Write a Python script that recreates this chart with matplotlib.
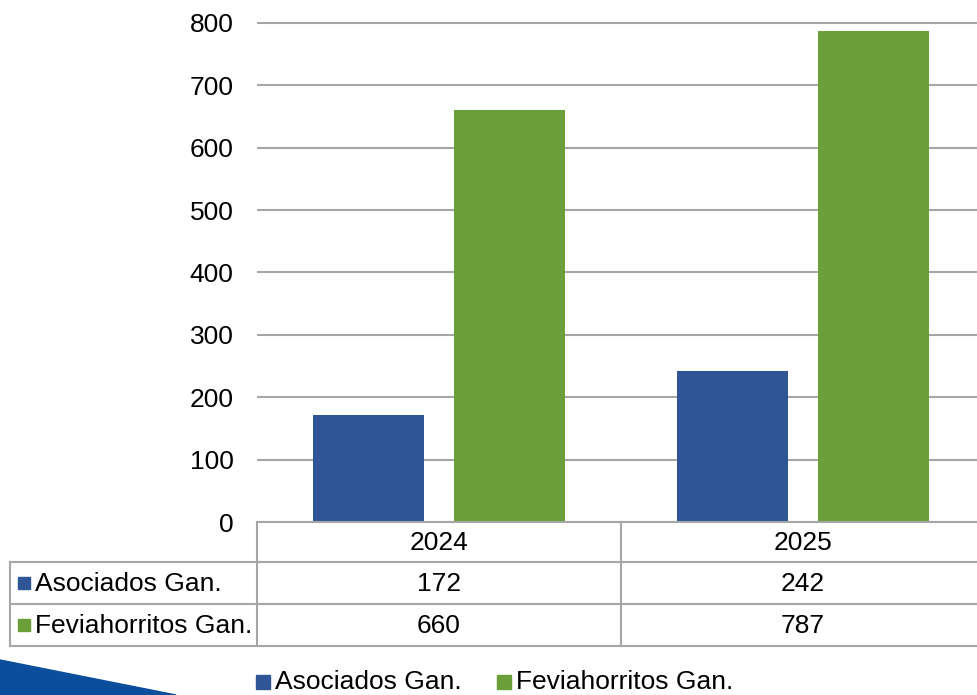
import matplotlib
matplotlib.use('Agg')
import matplotlib.pyplot as plt
import numpy as np
from matplotlib.patches import Polygon, Rectangle

plt.rcParams['font.family'] = ['Liberation Sans', 'DejaVu Sans']

years = ['2024', '2025']
series_names = ['Asociados Gan.', 'Feviahorritos Gan.']
asociados = [172, 242]
feviahorritos = [660, 787]
yticks = [0, 100, 200, 300, 400, 500, 600, 700, 800]

blue = '#2F5597'
green = '#6A9F3A'
grid_grey = '#A6A6A6'

W, H = 977, 695
fig = plt.figure(figsize=(W / 100, H / 100), dpi=100)


def fx(x):
    return x / W


def fy(y):
    return 1 - y / H


# plot area (right edge runs slightly past the picture)
left, right, bottom, top = 257, 985, 522, 20
ax = fig.add_axes([fx(left), fy(bottom), fx(right - left), (bottom - top) / H])
x = np.arange(len(years))
width = 0.305
off = 0.195
ax.bar(x - off, asociados, width, color=blue, zorder=3)
ax.bar(x + off, feviahorritos, width, color=green, zorder=3)
ax.set_xlim(-0.5, len(years) - 0.5)
ax.set_ylim(0, 800 * (bottom - top) / (bottom - 23))
ax.set_yticks(yticks)
ax.set_yticklabels([str(v) for v in yticks], fontsize=19)
ax.set_xticks([])
ax.yaxis.grid(True, color=grid_grey, linewidth=1.5, zorder=0)
ax.tick_params(axis='y', length=0, pad=17)
for s in ax.spines.values():
    s.set_visible(False)

# data table below the plot
line_kw = dict(color=grid_grey, linewidth=1.5, transform=fig.transFigure)
col_w = 364
row_y = [522, 562, 604, 646]
fig.add_artist(plt.Line2D([fx(left), 1], [fy(row_y[0])] * 2, **line_kw))
for yy in row_y[1:]:
    fig.add_artist(plt.Line2D([fx(10), 1], [fy(yy)] * 2, **line_kw))
fig.add_artist(plt.Line2D([fx(10)] * 2, [fy(row_y[1]), fy(row_y[3])], **line_kw))
for i in range(len(years)):
    xl = left + col_w * i
    fig.add_artist(plt.Line2D([fx(xl)] * 2, [fy(row_y[0]), fy(row_y[3])], **line_kw))

rows = [asociados, feviahorritos]
colors = [blue, green]
for i, yr in enumerate(years):
    cx = left + col_w * (i + 0.5)
    fig.text(fx(cx), fy((row_y[0] + row_y[1]) / 2 + 1), yr, ha='center', va='center', fontsize=19)
    for r, vals in enumerate(rows):
        cy = (row_y[r + 1] + row_y[r + 2]) / 2 + 1
        fig.text(fx(cx), fy(cy), str(vals[i]), ha='center', va='center', fontsize=19)

for r, name in enumerate(series_names):
    cy = (row_y[r + 1] + row_y[r + 2]) / 2
    fig.add_artist(Rectangle((fx(18), fy(cy + 6)), fx(12), 12 / H, color=colors[r],
                             transform=fig.transFigure))
    fig.text(fx(35), fy(cy + 1), name, ha='left', va='center', fontsize=19)

# legend at the bottom
leg_y = 682
leg_x = [256, 497]
for name, c, lx in zip(series_names, colors, leg_x):
    fig.add_artist(Rectangle((fx(lx), fy(leg_y + 7)), fx(14), 14 / H, color=c,
                             transform=fig.transFigure))
    fig.text(fx(lx + 19), fy(leg_y), name, ha='left', va='center', fontsize=19)

# decorative swoosh in the lower-left corner
fig.add_artist(Polygon([(0, fy(660)), (fx(176), 0), (0, 0)], closed=True,
                       color='#0B4F9C', transform=fig.transFigure))

fig.savefig('out.png', dpi=100)
